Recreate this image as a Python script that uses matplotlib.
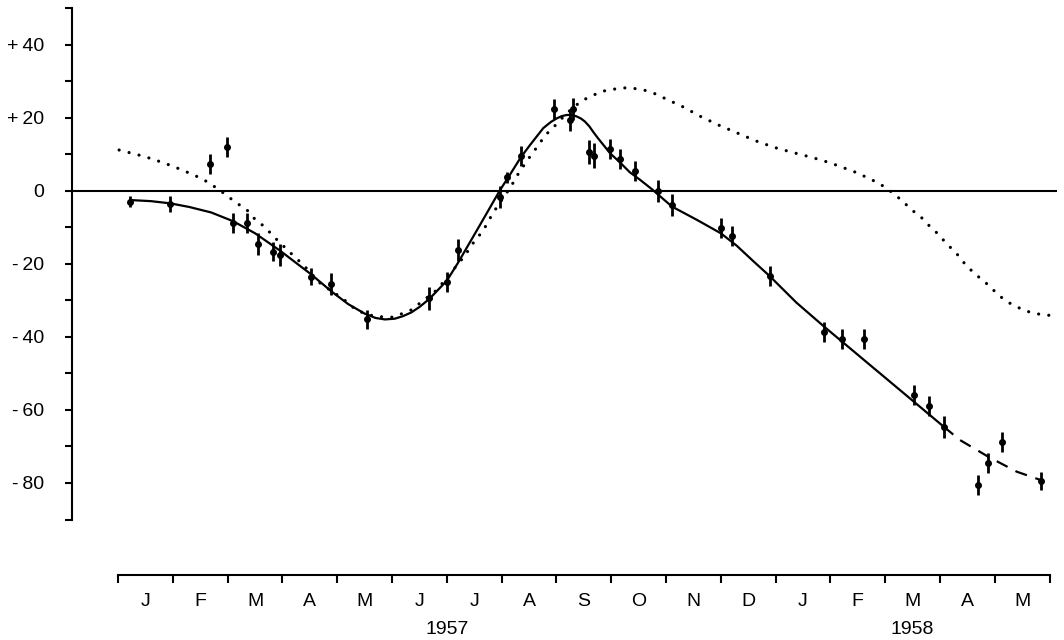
import matplotlib.pyplot as plt

plt.rcParams['font.family'] = ['Liberation Sans', 'DejaVu Sans']

# months counted from 1 Jan 1957
month_labels = ['J', 'F', 'M', 'A', 'M', 'J', 'J', 'A', 'S', 'O', 'N', 'D',
                'J', 'F', 'M', 'A', 'M']
y_ticks = [40, 20, 0, -20, -40, -60, -80]
y_labels = ['+\u200940', '+\u200920', '0', '-\u200920', '-\u200940', '-\u200960', '-\u200980']

# observed points with error bars
obs_month = [0.22, 0.95, 1.68, 1.98, 2.10, 2.35, 2.56, 2.82, 2.96, 3.52, 3.89,
             4.54, 5.68, 6.00, 6.20, 6.97, 7.10, 7.35, 7.96, 8.25, 8.31, 8.60,
             8.69, 8.98, 9.16, 9.44, 9.85, 10.11, 11.00, 11.20, 11.89, 12.88,
             13.22, 13.61, 14.53, 14.80, 15.07, 15.69, 15.88, 16.14, 16.84]
obs_value = [-2.9, -3.6, 7.3, 12.1, -8.7, -8.8, -14.5, -16.6, -17.5, -23.5, -25.6,
             -35.2, -29.4, -25.0, -16.2, -1.7, 3.8, 9.6, 22.5, 19.5, 22.5, 10.6,
             9.7, 11.5, 8.8, 5.5, 0.1, -3.8, -10.1, -12.3, -23.3, -38.6,
             -40.6, -40.6, -55.9, -58.9, -64.6, -80.5, -74.6, -68.7, -79.4]
obs_err = [1.6, 2.3, 2.7, 2.7, 2.7, 2.8, 3.0, 2.6, 3.0, 2.4, 3.0,
           2.7, 3.2, 2.7, 3.0, 3.0, 1.5, 2.8, 2.8, 3.0, 3.0, 3.3,
           3.3, 2.7, 2.7, 2.7, 3.0, 3.0, 2.7, 2.7, 2.7, 2.7,
           2.7, 2.7, 2.7, 2.7, 3.0, 2.7, 2.7, 2.7, 2.5]

# fitted curve (solid) and its extension (dashed)
fit_month = [0.22, 0.6, 0.95, 1.3, 1.7, 2.1, 2.5, 2.96, 3.3, 3.52, 3.9, 4.2, 4.5,
             4.7, 4.87, 5.05, 5.2, 5.35, 5.5, 5.68, 6.0, 6.2, 6.61, 6.97, 7.15,
             7.35, 7.52, 7.76, 7.9, 8.01, 8.1, 8.19, 8.28, 8.37, 8.45, 8.52, 8.6,
             8.67, 8.75, 8.83, 8.98, 9.16, 9.34, 9.53, 9.74,
             10.11, 10.56, 11.0, 11.29, 11.59, 11.89, 12.38, 12.88, 15.07]
fit_value = [-2.5, -2.8, -3.4, -4.4, -5.9, -8.3, -11.6, -16.4, -20.3, -22.8, -27.6,
             -31.0, -33.6, -34.8, -35.2, -35.0, -34.3, -33.3, -31.8, -29.6, -24.6,
             -19.8, -9.2, 0.2, 4.4, 9.2, 12.6, 17.2, 18.9, 19.9, 20.5, 20.8, 20.8,
             20.4, 19.8, 19.0, 17.7, 16.2, 14.6, 13.1, 10.3, 7.8, 5.1, 3.0, 0.5,
             -4.3, -7.9, -11.6, -15.0, -19.2, -23.3, -30.6, -37.1, -64.6]
ext_month = [15.07, 15.36, 15.88, 16.40, 16.84]
ext_value = [-64.6, -68.2, -72.8, -76.9, -79.2]

# model curve (dotted)
model_month = [0.02, 0.49, 0.85, 1.16, 1.54, 1.83, 2.17, 2.34, 2.49, 2.68, 2.84,
               3.17, 3.39, 3.69, 4.11, 4.36, 4.69, 5.02, 5.35, 5.82, 6.33, 6.48,
               6.67, 6.84, 7.17, 7.30, 7.46, 7.64, 7.80, 7.97, 8.19, 8.46, 8.66,
               8.81, 8.98, 9.15, 9.33, 9.48, 9.63, 9.82, 9.97, 10.30, 10.63, 10.95,
               11.64, 11.98, 12.32, 12.66, 12.97, 13.14, 13.48, 13.83, 14.0, 14.14,
               14.31, 14.49, 14.63, 14.82, 14.95, 15.13, 15.30, 15.46, 15.62, 15.83,
               15.97, 16.14, 16.30, 16.48, 16.62, 16.79, 16.95, 17.13]
model_value = [11.2, 9.4, 7.6, 5.8, 3.3, 0.5, -3.4, -5.0, -7.6, -9.9, -12.5,
               -17.3, -20.4, -25.3, -29.6, -32.8, -34.4, -34.6, -32.6, -27.1, -17.7, -14.3,
               -10.7, -6.1, 1.2, 4.6, 8.2, 11.9, 15.3, 17.8, 21.3, 24.7, 26.1,
               27.2, 27.7, 28.1, 28.3, 27.9, 27.5, 26.5, 25.4, 23.1, 20.4, 18.1,
               13.7, 11.9, 10.5, 9.2, 7.8, 6.9, 5.0, 2.5, 1.0, -0.6,
               -2.7, -5.3, -6.8, -9.8, -11.6, -14.6, -17.1, -20.1, -22.5, -25.1,
               -27.1, -29.4, -31.0, -32.3, -33.1, -33.7, -34.1, -33.9]

fig = plt.figure(figsize=(10.64, 6.4), dpi=100)
ax = fig.add_axes([72 / 1064, 65 / 640, 985 / 1064, 567 / 640])
ax.set_xlim(-0.84, 17.135)
ax.set_ylim(-105.2, 50.1)

ax.axhline(0, color='black', lw=1.5)
ax.plot(model_month, model_value, color='black', lw=2.3,
        linestyle=(0, (0.01, 3.2)), dash_capstyle='round')
ax.plot(fit_month, fit_value, color='black', lw=1.6)
ax.plot(ext_month, ext_value, color='black', lw=1.6, linestyle=(0, (5.5, 4)))
ax.errorbar(obs_month, obs_value, yerr=obs_err, fmt='o', color='black',
            ms=4, elinewidth=2.0, capsize=0)

for side in ['top', 'right']:
    ax.spines[side].set_visible(False)
ax.spines['left'].set_bounds(-90, 50)
ax.spines['bottom'].set_bounds(0, 17)
ax.spines['left'].set_linewidth(1.5)
ax.spines['bottom'].set_linewidth(1.5)

ax.set_yticks(y_ticks)
ax.set_yticklabels(y_labels, fontsize=14)
ax.set_yticks(range(-90, 51, 20), minor=True)
ax.tick_params(axis='y', which='both', direction='out', length=5, width=1.5, pad=15)

ax.set_xticks(range(0, 18))
ax.set_xticklabels([])
ax.set_xticks([i + 0.5 for i in range(len(month_labels))], minor=True)
ax.set_xticklabels(month_labels, minor=True, fontsize=14)
ax.tick_params(axis='x', which='major', direction='out', length=6, width=1.5)
ax.tick_params(axis='x', which='minor', length=0, pad=13)

ax.text(6.0, -120.2, '1957', ha='center', va='center', fontsize=14, clip_on=False)
ax.text(14.5, -120.2, '1958', ha='center', va='center', fontsize=14, clip_on=False)

fig.savefig('out.png', dpi=100)
